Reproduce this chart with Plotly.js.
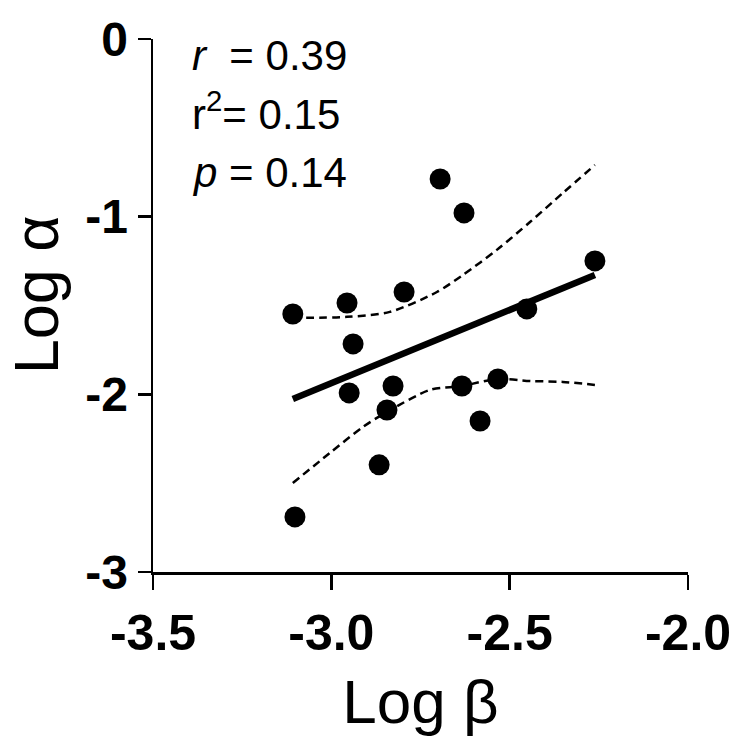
<!DOCTYPE html>
<html>
<head>
<meta charset="utf-8">
<script src="https://cdn.plot.ly/plotly-3.0.1.min.js"></script>
<style>html,body{margin:0;padding:0;background:#fff;}#chart{width:738px;height:750px;}</style>
</head>
<body>
<div id="chart"></div>
<script>
// Data points
const logBeta  = [-3.108, -2.956, -2.939, -2.950, -3.102, -2.796, -2.695, -2.628, -2.261, -2.452, -2.827, -2.844, -2.866, -2.634, -2.533, -2.583];
const logAlpha = [-1.548, -1.486, -1.716, -1.992, -2.690, -1.424, -0.788, -0.979, -1.249, -1.519, -1.953, -2.088, -2.397, -1.953, -1.913, -2.150];

// Regression line
const fitX = [-3.108, -2.261];
const fitY = [-2.026, -1.328];

// 95% confidence band
const upperX = [-3.108, -2.956, -2.836, -2.704, -2.631, -2.536, -2.443, -2.351, -2.261];
const upperY = [-1.570, -1.564, -1.536, -1.424, -1.328, -1.187, -1.030, -0.867, -0.709];
const lowerX = [-3.108, -3.004, -2.911, -2.844, -2.723, -2.634, -2.533, -2.443, -2.351, -2.261];
const lowerY = [-2.499, -2.330, -2.183, -2.099, -1.975, -1.953, -1.913, -1.925, -1.930, -1.947];

// Axis ticks
const xTickVals = [-3.5, -3.0, -2.5, -2.0];
const xTickText = ['-3.5', '-3.0', '-2.5', '-2.0'];
const yTickVals = [-3, -2, -1, 0];
const yTickText = ['-3', '-2', '-1', '0'];

// Axis titles
const xTitle = 'Log \u03B2';
const yTitle = 'Log \u03B1';

// Statistics text
const statLines = ['<i>r</i>\u00A0\u00A0= 0.39', 'r<sup>2</sup>= 0.15', '<i>p</i> = 0.14'];
const statY = [-0.095, -0.405, -0.752];

const FONT = 'Liberation Sans, Arial, Helvetica, sans-serif';

const traces = [
  {x: upperX, y: upperY, mode: 'lines', line: {color: '#000', width: 2.5, dash: '8px,5px', shape: 'spline', smoothing: 0.8}, hoverinfo: 'skip'},
  {x: lowerX, y: lowerY, mode: 'lines', line: {color: '#000', width: 2.5, dash: '8px,5px', shape: 'spline', smoothing: 0.8}, hoverinfo: 'skip'},
  {x: fitX, y: fitY, mode: 'lines', line: {color: '#000', width: 6.5}, hoverinfo: 'skip'},
  {x: logBeta, y: logAlpha, mode: 'markers', marker: {color: '#000', size: 21}}
];

const annotations = statLines.map((t, i) => ({
  x: -3.396, y: statY[i], xref: 'x', yref: 'y', xanchor: 'left', yanchor: 'middle',
  text: t, showarrow: false, font: {family: FONT, size: 42, color: '#000'}
}));
annotations.push({
  x: -0.2187, y: 0.521, xref: 'paper', yref: 'paper', xanchor: 'center', yanchor: 'middle',
  text: yTitle, textangle: -90, showarrow: false, borderpad: 0, font: {family: FONT, size: 63, color: '#000'}
});

const layout = {
  width: 738, height: 750,
  margin: {l: 153, r: 50, t: 39, b: 178, pad: 0},
  paper_bgcolor: '#fff', plot_bgcolor: '#fff',
  showlegend: false,
  font: {family: FONT, color: '#000'},
  xaxis: {
    range: [-3.5, -2.0], tickvals: xTickVals, ticktext: xTickText,
    showgrid: false, zeroline: false, showline: true, linecolor: '#000', linewidth: 2.5,
    ticks: 'outside', ticklen: 15, tickwidth: 2.5, tickcolor: '#000',
    tickfont: {family: FONT, size: 50, weight: 'bold', color: '#000'},
    title: {text: xTitle, font: {family: FONT, size: 62, color: '#000'}, standoff: 20},
    automargin: false
  },
  yaxis: {
    range: [-3, 0], tickvals: yTickVals, ticktext: yTickText,
    showgrid: false, zeroline: false, showline: true, linecolor: '#000', linewidth: 2.5,
    ticks: 'outside', ticklen: 13, tickwidth: 2.5, tickcolor: '#000',
    tickfont: {family: FONT, size: 48, weight: 'bold', color: '#000'},
    automargin: false
  },
  annotations: annotations
};

Plotly.newPlot('chart', traces, layout, {displayModeBar: false, staticPlot: true});
</script>
</body>
</html>
